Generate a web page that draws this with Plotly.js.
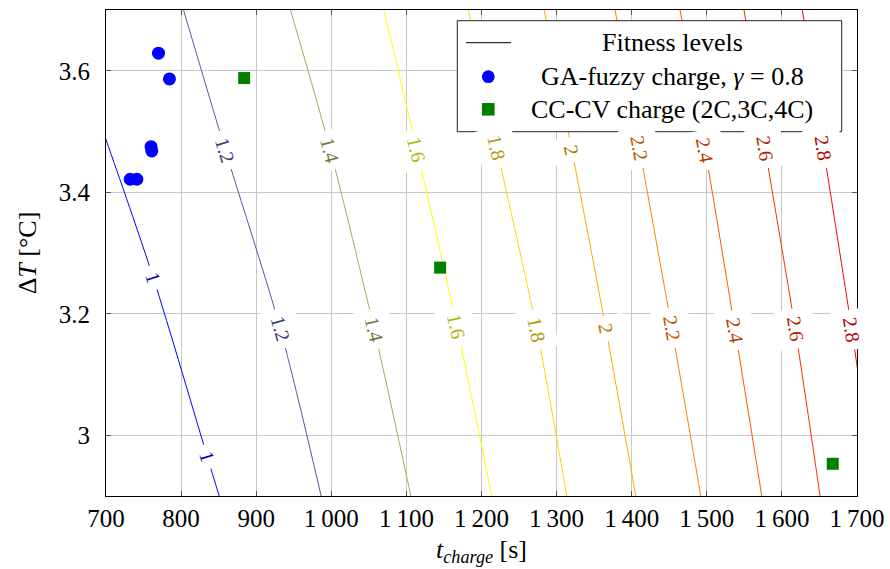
<!DOCTYPE html>
<html><head><meta charset="utf-8">
<script src="https://cdn.plot.ly/plotly-3.0.1.min.js"></script>
<style>html,body{margin:0;padding:0;background:#fff}</style>
</head><body><div id="chart" style="width:890px;height:569px"></div>
<script>
// ---- data ----
const contourLevels = [1, 1.2, 1.4, 1.6, 1.8, 2, 2.2, 2.4, 2.6, 2.8];
const contourColors = ['#0000ff', '#5555aa', '#aaaa55', '#ffff00', '#ffd500', '#ffaa00', '#ff8000', '#ff5500', '#ff2b00', '#ff0000'];
const contourX = [
  [637.7, 699.9, 763.0, 834.9, 850.7],
  [803.2, 858.7, 931.9, 986.5],
  [945.6, 998.5, 1057.0, 1105.9],
  [1070.0, 1113.9, 1167.2, 1213.7],
  [1182.6, 1220.4, 1273.6, 1313.6],
  [1283.4, 1320.2, 1365.5, 1405.4],
  [1377.9, 1410.3, 1453.4, 1492.0],
  [1464.4, 1497.7, 1537.6, 1573.2],
  [1549.6, 1577.6, 1617.6, 1650.8],
  [1627.2, 1655.2, 1693.0, 1725.0]
];
const contourY = [
  [3.7, 3.487, 3.259, 2.9645, 2.9],
  [3.7, 3.47, 3.176, 2.9],
  [3.7, 3.47, 3.175, 2.9],
  [3.7, 3.47, 3.179, 2.9],
  [3.7, 3.473, 3.1735, 2.9],
  [3.7, 3.47, 3.176, 2.9],
  [3.7, 3.473, 3.176, 2.9],
  [3.7, 3.47, 3.1735, 2.9],
  [3.7, 3.473, 3.176, 2.9],
  [3.7, 3.473, 3.1735, 2.9]
];
const contourLabelY = [
  [3.259, 2.9645], [3.47, 3.176], [3.47, 3.175], [3.47, 3.179], [3.473, 3.1735],
  [3.47, 3.176], [3.473, 3.176], [3.47, 3.1735], [3.473, 3.176], [3.473, 3.1735]
];
const gaFuzzyT = [769.9, 784.5, 760.0, 761.0, 732.2, 741.1];
const gaFuzzyDT = [3.629, 3.5865, 3.475, 3.468, 3.4214, 3.4214];
const ccCvT = [884.0, 1144.9, 1667.7];
const ccCvDT = [3.588, 3.276, 2.953];
const xTickVals = [700, 800, 900, 1000, 1100, 1200, 1300, 1400, 1500, 1600, 1700];
const xTickText = ['700', '800', '900', '1\u2009000', '1\u2009100', '1\u2009200', '1\u2009300', '1\u2009400', '1\u2009500', '1\u2009600', '1\u2009700'];
const yTickVals = [3, 3.2, 3.4, 3.6];
const yTickText = ['3', '3.2', '3.4', '3.6'];
const legendNames = ['Fitness levels', 'GA-fuzzy charge, <i>γ</i> = 0.8', 'CC-CV charge (2C,3C,4C)'];

// ---- layout constants ----
const W = 890, H = 569;
const M = {l: 106, r: 33, t: 10, b: 73};
const xRange = [700, 1700], yRange = [2.9, 3.7];
const pxPerX = (W - M.l - M.r) / (xRange[1] - xRange[0]);
const pxPerY = (H - M.t - M.b) / (yRange[1] - yRange[0]);
const FONT = '"Liberation Serif", "Times New Roman", serif';

function darken(hex, f) {
  const r = parseInt(hex.slice(1, 3), 16), g = parseInt(hex.slice(3, 5), 16), b = parseInt(hex.slice(5, 7), 16);
  return 'rgb(' + Math.round(r * f) + ',' + Math.round(g * f) + ',' + Math.round(b * f) + ')';
}

const traces = [];
const annotations = [];
contourLevels.forEach((lv, i) => {
  traces.push({
    x: contourX[i], y: contourY[i], type: 'scatter', mode: 'lines',
    line: {color: contourColors[i], width: 1, shape: 'spline', smoothing: 0.8},
    name: 'Fitness level ' + lv, showlegend: false, hoverinfo: 'skip'
  });
  const xs = contourX[i], ys = contourY[i];
  contourLabelY[i].forEach(ly => {
    for (let k = 0; k < ys.length - 1; k++) {
      if ((ys[k] - ly) * (ys[k + 1] - ly) <= 0) {
        const t = (ly - ys[k]) / (ys[k + 1] - ys[k]);
        const lx = xs[k] + t * (xs[k + 1] - xs[k]);
        const a = Math.max(0, k - (t < 0.5 ? 1 : 0)), b = Math.min(ys.length - 1, k + 1 + (t > 0.5 ? 1 : 0));
        const dxp = (xs[b] - xs[a]) * pxPerX, dyp = -(ys[b] - ys[a]) * pxPerY;
        const ang = Math.atan2(dyp, dxp) * 180 / Math.PI;
        annotations.push({
          x: lx, y: ly, xref: 'x', yref: 'y', text: String(lv), showarrow: false,
          textangle: ang, bgcolor: 'white', borderpad: 7,
          font: {family: FONT, size: 20, color: darken(contourColors[i], 0.7)}
        });
        break;
      }
    }
  });
});

traces.push({
  x: gaFuzzyT, y: gaFuzzyDT, type: 'scatter', mode: 'markers', name: 'GA-fuzzy charge, γ = 0.8',
  marker: {color: '#0000ff', size: 13, symbol: 'circle'}, showlegend: false
});
traces.push({
  x: ccCvT, y: ccCvDT, type: 'scatter', mode: 'markers', name: 'CC-CV charge (2C,3C,4C)',
  marker: {color: '#008000', size: 12, symbol: 'square'}, showlegend: false
});

// ---- custom legend (centered text like the original) ----
const pw = W - M.l - M.r, ph = H - M.t - M.b;
const px2p = px => (px - M.l) / pw;
const py2p = py => 1 - (py - M.t) / ph;
const legRows = [42.7, 76.7, 109.3];
const shapes = [
  {type: 'rect', xref: 'paper', yref: 'paper', x0: px2p(457.3), x1: px2p(841.7), y0: py2p(131.7), y1: py2p(20.7),
   fillcolor: 'white', line: {color: '#222', width: 1}, layer: 'above'},
  {type: 'line', xref: 'paper', yref: 'paper', x0: px2p(466), x1: px2p(511), y0: py2p(legRows[0]), y1: py2p(legRows[0]),
   line: {color: 'black', width: 1}, layer: 'above'},
  {type: 'circle', xref: 'paper', yref: 'paper', xsizemode: 'pixel', ysizemode: 'pixel',
   xanchor: px2p(488.3), yanchor: py2p(legRows[1]), x0: -6.4, x1: 6.4, y0: -6.4, y1: 6.4,
   fillcolor: '#0000ff', line: {width: 0}, layer: 'above'},
  {type: 'rect', xref: 'paper', yref: 'paper', xsizemode: 'pixel', ysizemode: 'pixel',
   xanchor: px2p(488.3), yanchor: py2p(legRows[2]), x0: -6.3, x1: 6.3, y0: -6.3, y1: 6.3,
   fillcolor: '#008000', line: {width: 0}, layer: 'above'}
];
legendNames.forEach((nm, i) => {
  annotations.push({
    xref: 'paper', yref: 'paper', x: px2p(672), y: py2p(legRows[i]), text: nm, showarrow: false,
    xanchor: 'center', yanchor: 'middle', font: {family: FONT, size: 26, color: 'black'}
  });
});

const axisCommon = {
  showgrid: true, gridcolor: '#c8c8c8', gridwidth: 1, zeroline: false,
  showline: true, linecolor: 'black', linewidth: 1, mirror: 'allticks',
  ticks: 'inside', ticklen: 5, tickcolor: '#555', tickwidth: 1,
  tickfont: {family: FONT, size: 25, color: 'black'}
};
const layout = {
  width: W, height: H, margin: M, paper_bgcolor: 'white', plot_bgcolor: 'white',
  showlegend: false,
  font: {family: FONT, color: 'black'},
  xaxis: Object.assign({}, axisCommon, {
    range: xRange, tickmode: 'array', tickvals: xTickVals, ticktext: xTickText,
    title: {text: '<i>t</i><sub><i>charge</i></sub> [s]', font: {family: FONT, size: 26}, standoff: 8}
  }),
  yaxis: Object.assign({}, axisCommon, {
    range: yRange, tickmode: 'array', tickvals: yTickVals, ticktext: yTickText,
    ticklabelstandoff: 10,
    title: {text: 'Δ<i>T</i> [°C]', font: {family: FONT, size: 26}, standoff: 14}
  }),
  shapes: shapes, annotations: annotations
};
Plotly.newPlot('chart', traces, layout, {staticPlot: true, displayModeBar: false});
</script></body></html>
